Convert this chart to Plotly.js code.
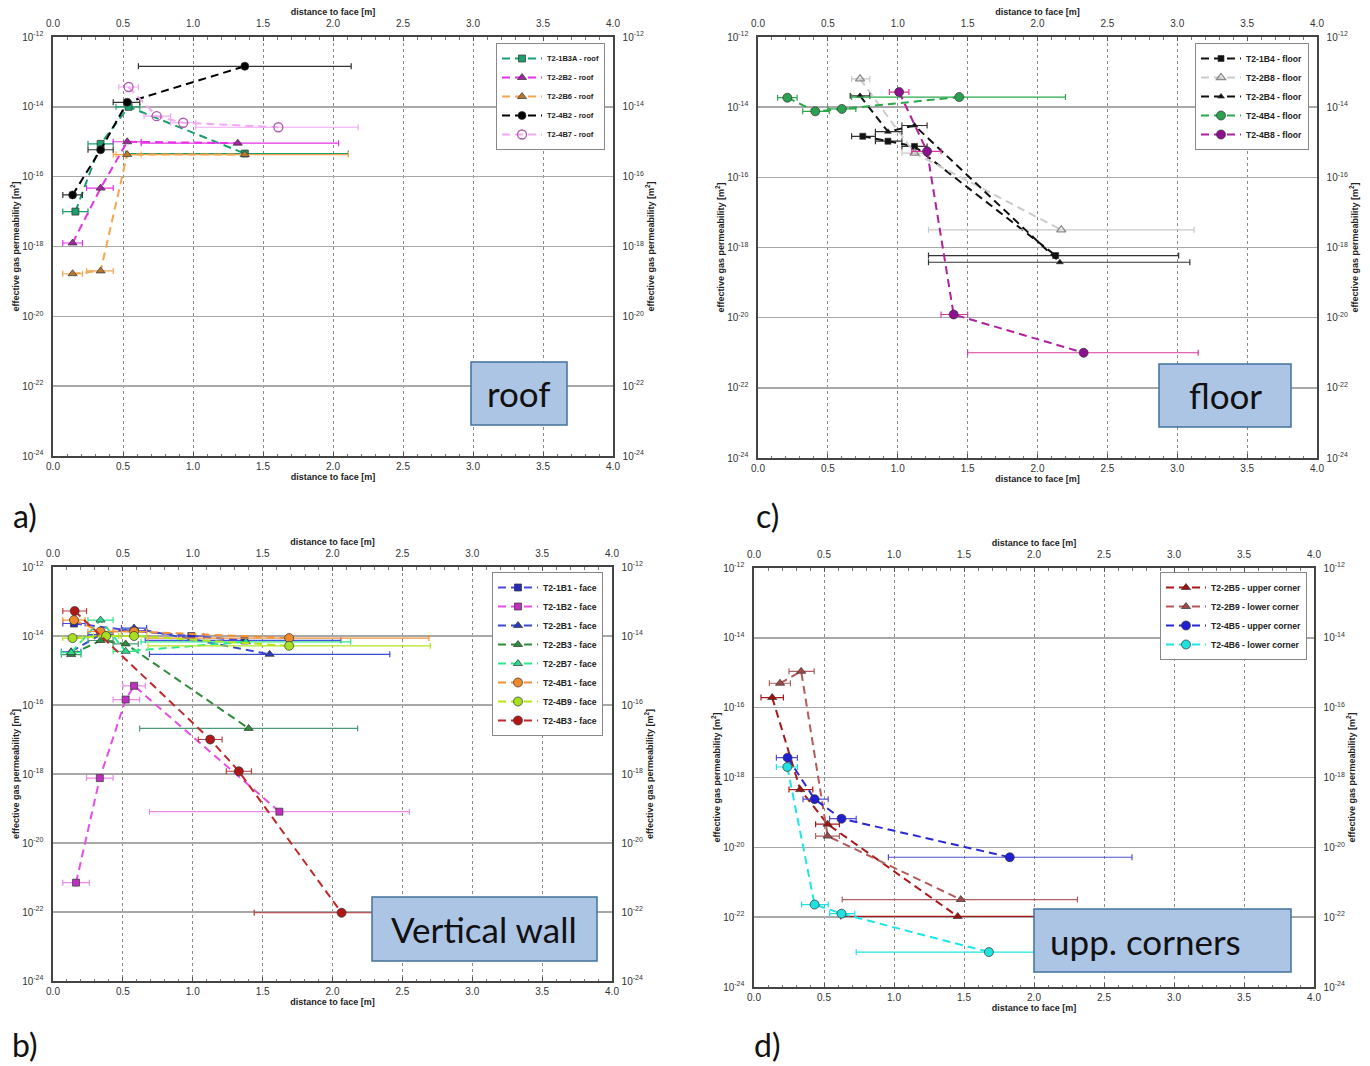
<!DOCTYPE html>
<html><head><meta charset="utf-8">
<script src="https://cdn.plot.ly/plotly-3.0.1.min.js"></script>
<style>html,body{margin:0;padding:0;background:#fff}#chart{width:1370px;height:1066px}</style>
</head><body><div id="chart"></div>
<script>
// ---------- DATA (distance d [m], permeability k [m^2], error-bar limits lo/hi [m]) ----------
// a) roof
const a_1B3A_d=[0.16,0.34,0.54,1.37], a_1B3A_k=[1.0e-17,8.7e-16,1.0e-14,4.6e-16], a_1B3A_lo=[0.07,0.25,0.45,0.52], a_1B3A_hi=[0.25,0.43,0.62,2.11];
const a_2B2_d=[0.14,0.34,0.53,1.32],  a_2B2_k=[1.26e-18,4.7e-17,1.0e-15,9.1e-16], a_2B2_lo=[0.07,0.24,0.43,0.63], a_2B2_hi=[0.21,0.43,0.63,2.04];
const a_2B6_d=[0.14,0.34,0.53,1.37],  a_2B6_k=[1.66e-19,2.0e-19,4.3e-16,4.3e-16], a_2B6_lo=[0.07,0.24,0.43,0.45], a_2B6_hi=[0.21,0.43,0.63,2.11];
const a_4B2_d=[0.14,0.34,0.53,1.37],  a_4B2_k=[3.0e-17,5.9e-16,1.35e-14,1.45e-13], a_4B2_lo=[0.07,0.25,0.43,0.61], a_4B2_hi=[0.21,0.43,0.62,2.13];
const a_4B7_d=[0.54,0.74,0.93,1.61],  a_4B7_k=[3.7e-14,5.4e-15,3.5e-15,2.6e-15], a_4B7_lo=[0.47,0.65,0.84,1.02], a_4B7_hi=[0.61,0.84,1.02,2.18];
// c) floor
const c_1B4_d=[0.75,0.93,1.12,2.13], c_1B4_k=[1.48e-15,1.07e-15,7.6e-16,5.9e-19], c_1B4_lo=[0.67,0.84,1.03,1.22], c_1B4_hi=[0.84,1.03,1.21,3.01];
const c_2B8_d=[0.73,1.12,2.17],      c_2B8_k=[6.4e-14,4.9e-16,3.2e-18],         c_2B8_lo=[0.67,1.03,1.22],      c_2B8_hi=[0.80,1.21,3.12];
const c_2B4_d=[0.73,0.93,1.12,2.16], c_2B4_k=[2.1e-14,2.0e-15,3.0e-15,3.8e-19], c_2B4_lo=[0.66,0.84,1.03,1.22], c_2B4_hi=[0.80,1.03,1.21,3.09];
const c_4B4_d=[0.21,0.41,0.60,1.44], c_4B4_k=[1.86e-14,7.6e-15,8.9e-15,1.94e-14], c_4B4_lo=[0.14,0.32,0.50,0.67], c_4B4_hi=[0.28,0.51,0.70,2.20];
const c_4B8_d=[1.01,1.21,1.40,2.33], c_4B8_k=[2.7e-14,5.5e-16,1.23e-20,1.0e-21], c_4B8_lo=[0.94,1.10,1.31,1.50], c_4B8_hi=[1.08,1.31,1.50,3.15];
// b) vertical wall (face)
const b_1B1_d=[0.15,0.58,0.99,1.37], b_1B1_k=[2.3e-14,1.4e-14,1.0e-14,7.5e-15], b_1B1_lo=[0.07,0.49,0.90,0.66], b_1B1_hi=[0.23,0.67,1.08,2.06];
const b_1B2_d=[0.165,0.335,0.52,0.58,1.62], b_1B2_k=[7.1e-22,7.6e-19,1.44e-16,3.6e-16,8.1e-20], b_1B2_lo=[0.07,0.24,0.43,0.50,0.69], b_1B2_hi=[0.26,0.43,0.62,0.66,2.55];
const b_2B1_d=[0.13,0.34,0.58,1.55], b_2B1_k=[3.5e-15,1.1e-14,1.7e-14,2.95e-15], b_2B1_lo=[0.06,0.25,0.49,0.69], b_2B1_hi=[0.20,0.43,0.67,2.41];
const b_2B3_d=[0.13,0.34,0.52,1.40], b_2B3_k=[2.9e-15,7.4e-15,5.9e-15,2.1e-17], b_2B3_lo=[0.06,0.25,0.43,0.62], b_2B3_hi=[0.20,0.43,0.61,2.18];
const b_2B7_d=[0.13,0.34,0.52,1.38], b_2B7_k=[3.3e-15,2.9e-14,3.6e-15,6.8e-15], b_2B7_lo=[0.06,0.25,0.43,0.63], b_2B7_hi=[0.20,0.43,0.61,2.13];
const b_4B1_d=[0.15,0.34,0.58,1.69], b_4B1_k=[2.9e-14,1.35e-14,1.35e-14,8.7e-15], b_4B1_lo=[0.07,0.25,0.49,0.68], b_4B1_hi=[0.23,0.43,0.67,2.69];
const b_4B9_d=[0.14,0.38,0.58,1.69], b_4B9_k=[8.7e-15,1.0e-14,1.0e-14,5.2e-15], b_4B9_lo=[0.07,0.29,0.49,0.68], b_4B9_hi=[0.21,0.47,0.67,2.70];
const b_4B3_d=[0.155,1.125,1.33,2.065], b_4B3_k=[5.3e-14,1.0e-17,1.2e-18,9.5e-23], b_4B3_lo=[0.07,1.04,1.24,1.44], b_4B3_hi=[0.24,1.21,1.42,2.69];
// d) upper corners
const d_2B5_d=[0.13,0.33,0.526,1.455], d_2B5_k=[1.95e-16,4.5e-19,4.6e-20,1.05e-22], d_2B5_lo=[0.05,0.25,0.44,0.62], d_2B5_hi=[0.21,0.42,0.61,2.29];
const d_2B9_d=[0.186,0.337,0.526,1.477], d_2B9_k=[5.0e-16,1.1e-15,2.1e-20,3.2e-22], d_2B9_lo=[0.11,0.25,0.44,0.63], d_2B9_hi=[0.26,0.43,0.61,2.31];
const d_4B5_d=[0.24,0.433,0.625,1.827], d_4B5_k=[3.7e-18,2.4e-19,6.6e-20,5.2e-21], d_4B5_lo=[0.16,0.35,0.54,0.96], d_4B5_hi=[0.31,0.53,0.73,2.70];
const d_4B6_d=[0.238,0.433,0.625,1.678], d_4B6_k=[2.0e-18,2.3e-22,1.26e-22,1.0e-23], d_4B6_lo=[0.16,0.34,0.54,0.73], d_4B6_hi=[0.31,0.53,0.72,2.62];

const xTicks=[0,0.5,1,1.5,2,2.5,3,3.5,4];
const yTickExp=[-24,-22,-20,-18,-16,-14,-12];

// ---------- LAYOUT ----------
const W=1370,H=1066, FONT='Liberation Sans, Arial, sans-serif';
const panels=[
 {x0:53,x1:613,y0:37,y1:456, lr:605,lt:43, lf:7.5},
 {x0:53,x1:612,y0:567,y1:981, lr:603,lt:572, lf:8.6},
 {x0:758,x1:1317,y0:37,y1:458, lr:1309,lt:43, lf:8.6},
 {x0:754,x1:1314,y0:568,y1:987, lr:1307,lt:572, lf:8.6}
];
const nm=(p,n)=> n===1?p:p+n;
const layout={width:W,height:H,margin:{l:0,r:0,t:0,b:0},paper_bgcolor:'#fff',plot_bgcolor:'#fff',
  font:{family:FONT,color:'#222'},showlegend:true,annotations:[],shapes:[]};
const tv=yTickExp.map(e=>Math.pow(10,e)), tt=yTickExp.map(e=>'10<sup>'+e+'</sup>');
const traces=[];
panels.forEach((p,i)=>{
  const xb=2*i+1, xt=2*i+2, yl=2*i+1, yr=2*i+2;
  const xdom=[p.x0/W,p.x1/W], ydom=[1-p.y1/H,1-p.y0/H];
  const xcommon={range:[0,4],tickvals:xTicks,ticktext:xTicks.map(v=>v.toFixed(1)),
    showline:true,linecolor:'#444',linewidth:1.6,ticks:'inside',ticklen:4,tickcolor:'#555',
    minor:{dtick:0.1,tick0:0,ticks:'inside',ticklen:2.5,tickcolor:'#777',showgrid:false},
    tickfont:{size:10,color:'#333'},zeroline:false,automargin:false,fixedrange:true,
    title:{text:'distance to face [m]',font:{size:9,weight:'bold',color:'#222'},standoff:1}};
  layout[nm('xaxis',xb)]=Object.assign({},xcommon,{domain:xdom,anchor:nm('y',yl),side:'bottom',
    showgrid:true,gridcolor:'#8a8a8a',gridwidth:1,griddash:'3px,3px'});
  layout[nm('xaxis',xt)]=Object.assign({},xcommon,{domain:xdom,overlaying:nm('x',xb),anchor:nm('y',yl),side:'top',
    showgrid:false,ticklabelstandoff:4});
  const ycommon={type:'log',range:[-24,-12],tickvals:tv,ticktext:tt,showline:true,linecolor:'#444',linewidth:1.6,
    ticks:'',tickfont:{size:10,color:'#333'},zeroline:false,automargin:false,fixedrange:true,ticklabelstandoff:6,
    title:{text:'effective gas permeability [m<sup>2</sup>]',font:{size:9,weight:'bold',color:'#222'},standoff:1}};
  layout[nm('yaxis',yl)]=Object.assign({},ycommon,{domain:ydom,anchor:nm('x',xb),side:'left',
    showgrid:true,gridcolor:'#a8a8a8',gridwidth:1.5});
  layout[nm('yaxis',yr)]=Object.assign({},ycommon,{domain:ydom,overlaying:nm('y',yl),anchor:nm('x',xb),side:'right',showgrid:false});
  layout[nm('legend',i+1)]={x:p.lr/W,y:1-p.lt/H,xanchor:'right',yanchor:'top',bgcolor:'#fff',bordercolor:'#888',borderwidth:1,
    font:{size:p.lf,family:FONT,weight:'bold',color:'#222'},itemwidth:40,tracegroupgap:0};
  // empty traces so the mirrored (top / right) axes get their own subplots and are drawn
  traces.push({type:'scatter',x:[],y:[],xaxis:nm('x',xt),yaxis:nm('y',yl),showlegend:false,hoverinfo:'skip'});
  traces.push({type:'scatter',x:[],y:[],xaxis:nm('x',xb),yaxis:nm('y',yr),showlegend:false,hoverinfo:'skip'});
});

function add(panel,name,d,k,lo,hi,color,mcolor,symbol,msize,ecolor){
  const i=panel, xb=2*i+1, yl=2*i+1;
  const open=symbol.indexOf('open')>=0;
  traces.push({type:'scatter',mode:'lines+markers',name:name,x:d,y:k,
    xaxis:nm('x',xb),yaxis:nm('y',yl),legend:nm('legend',i+1),
    line:{color:color,width:2,dash:'8px,5px'},
    marker:{symbol:symbol,size:msize,color:mcolor,line:{color:open?mcolor:'#333',width:open?1.3:0.7}},
    error_x:{type:'data',symmetric:false,array:hi.map((h,j)=>h-d[j]),arrayminus:lo.map((l,j)=>d[j]-l),
      color:ecolor||color,thickness:1.2,width:3}});
}
// a) roof
add(0,'T2-1B3A - roof',a_1B3A_d,a_1B3A_k,a_1B3A_lo,a_1B3A_hi,'#1b9e6e','#1b9e6e','square',7);
add(0,'T2-2B2 - roof',a_2B2_d,a_2B2_k,a_2B2_lo,a_2B2_hi,'#e632e6','#a0279e','triangle-up',8);
add(0,'T2-2B6 - roof',a_2B6_d,a_2B6_k,a_2B6_lo,a_2B6_hi,'#f5a64e','#b57a30','triangle-up',8);
add(0,'T2-4B2 - roof',a_4B2_d,a_4B2_k,a_4B2_lo,a_4B2_hi,'#000000','#000000','circle',8,'#333');
add(0,'T2-4B7 - roof',a_4B7_d,a_4B7_k,a_4B7_lo,a_4B7_hi,'#f4a8f4','#b15ab1','circle-open',9);
// b) face
add(1,'T2-1B1 - face',b_1B1_d,b_1B1_k,b_1B1_lo,b_1B1_hi,'#4a4ae0','#2a2ab8','square',7);
add(1,'T2-1B2 - face',b_1B2_d,b_1B2_k,b_1B2_lo,b_1B2_hi,'#e64fe6','#c030c0','square',7,'#ea8aea');
add(1,'T2-2B1 - face',b_2B1_d,b_2B1_k,b_2B1_lo,b_2B1_hi,'#3a4ad0','#2a3ab8','triangle-up',8);
add(1,'T2-2B3 - face',b_2B3_d,b_2B3_k,b_2B3_lo,b_2B3_hi,'#2e8b3a','#2e8b3a','triangle-up',8,'#4a9a7a');
add(1,'T2-2B7 - face',b_2B7_d,b_2B7_k,b_2B7_lo,b_2B7_hi,'#2ee88a','#2ed88a','triangle-up',8);
add(1,'T2-4B1 - face',b_4B1_d,b_4B1_k,b_4B1_lo,b_4B1_hi,'#f39233','#ee8a2a','circle',9);
add(1,'T2-4B9 - face',b_4B9_d,b_4B9_k,b_4B9_lo,b_4B9_hi,'#b4e61e','#a8e020','circle',9);
add(1,'T2-4B3 - face',b_4B3_d,b_4B3_k,b_4B3_lo,b_4B3_hi,'#c0282a','#b01818','circle',9,'#b84040');
// c) floor
add(2,'T2-1B4 - floor',c_1B4_d,c_1B4_k,c_1B4_lo,c_1B4_hi,'#111111','#111111','square',6,'#333');
add(2,'T2-2B8 - floor',c_2B8_d,c_2B8_k,c_2B8_lo,c_2B8_hi,'#cccccc','#8a8a8a','triangle-up-open',8,'#c8c8c8');
add(2,'T2-2B4 - floor',c_2B4_d,c_2B4_k,c_2B4_lo,c_2B4_hi,'#111111','#111111','triangle-up',6,'#333');
add(2,'T2-4B4 - floor',c_4B4_d,c_4B4_k,c_4B4_lo,c_4B4_hi,'#2aa84a','#2aa050','circle',9);
add(2,'T2-4B8 - floor',c_4B8_d,c_4B8_k,c_4B8_lo,c_4B8_hi,'#b0209f','#8c1090','circle',9,'#d83a9a');
// d) corners
add(3,'T2-2B5 - upper corner',d_2B5_d,d_2B5_k,d_2B5_lo,d_2B5_hi,'#a81818','#a01010','triangle-up',8);
add(3,'T2-2B9 - lower corner',d_2B9_d,d_2B9_k,d_2B9_lo,d_2B9_hi,'#b45a5a','#a04848','triangle-up',8,'#b06060');
add(3,'T2-4B5 - upper corner',d_4B5_d,d_4B5_k,d_4B5_lo,d_4B5_hi,'#2828d8','#2020d0','circle',9,'#5050d0');
add(3,'T2-4B6 - lower corner',d_4B6_d,d_4B6_k,d_4B6_lo,d_4B6_hi,'#1ee6e6','#20e0e0','circle',9);

// ---------- label boxes & panel letters ----------
const boxes=[
 {t:'roof',x0:471,x1:567,y0:362,y1:425,tx:519,anc:'center'},
 {t:'floor',x0:1159,x1:1291,y0:364,y1:427,tx:1225,anc:'center'},
 {t:'Vertical wall',x0:372,x1:597,y0:897,y1:961,tx:484,anc:'center'},
 {t:'upp. corners',x0:1034,x1:1291,y0:909,y1:972,tx:1048,anc:'left'}
];
boxes.forEach(b=>{
  layout.shapes.push({type:'rect',xref:'paper',yref:'paper',x0:b.x0/W,x1:b.x1/W,y0:1-b.y1/H,y1:1-b.y0/H,
    fillcolor:'#adc5e5',line:{color:'#41719c',width:1.5},layer:'above'});
  layout.annotations.push({xref:'paper',yref:'paper',x:b.tx/W,y:1-(b.y0+b.y1)/2/H,xanchor:b.anc,yanchor:'middle',
    text:b.t,showarrow:false,font:{family:'Lato, Open Sans, sans-serif',size:35,color:'#111'}});
});
[['a)',25,515],['c)',767,515],['b)',25,1044],['d)',767,1044]].forEach(l=>{
  layout.annotations.push({xref:'paper',yref:'paper',x:l[1]/W,y:1-l[2]/H,xanchor:'center',yanchor:'middle',
    text:l[0],showarrow:false,font:{family:'Lato, Open Sans, sans-serif',size:32,color:'#111'}});
});

Plotly.newPlot('chart',traces,layout,{staticPlot:true,displayModeBar:false});
</script></body></html>
